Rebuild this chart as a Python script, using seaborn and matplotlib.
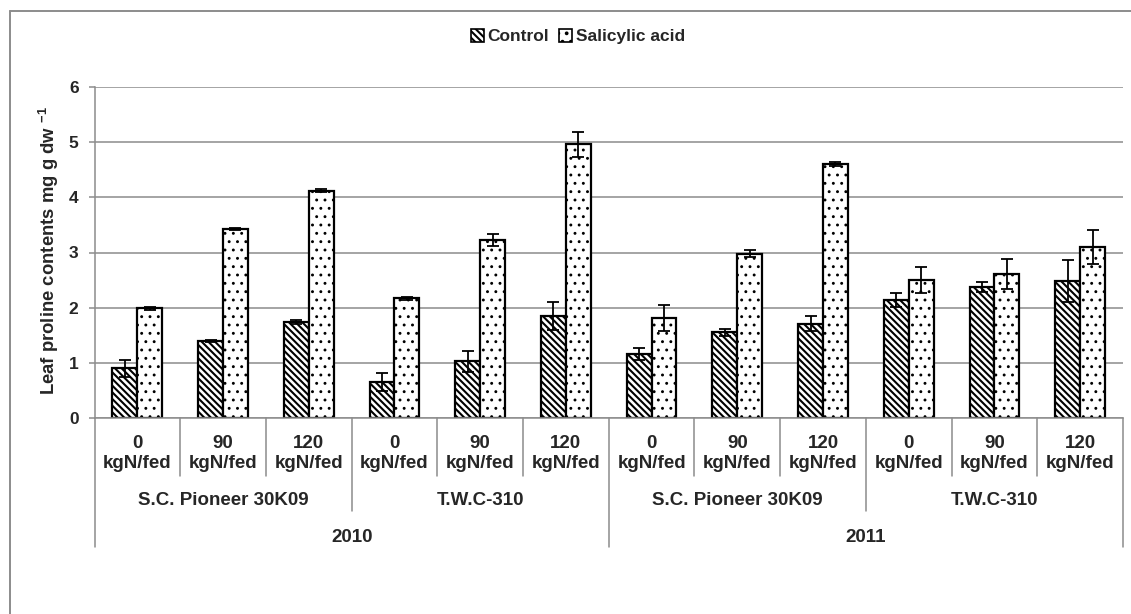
import matplotlib
matplotlib.use("Agg")
import matplotlib.pyplot as plt
from matplotlib.patches import Patch
import numpy as np
import pandas as pd
import seaborn as sns

# ---- data -------------------------------------------------------------
years = ["2010", "2011"]
hybrids = ["S.C. Pioneer 30K09", "T.W.C-310"]
nitrogen = ["0\nkgN/fed", "90\nkgN/fed", "120\nkgN/fed"]
treatments = ["Control", "Salicylic acid"]

control = [0.90, 1.39, 1.74, 0.65, 1.03, 1.85, 1.16, 1.55, 1.71, 2.14, 2.37, 2.48]
control_err = [0.16, 0.02, 0.03, 0.16, 0.19, 0.25, 0.10, 0.06, 0.13, 0.12, 0.09, 0.38]
salicylic = [1.99, 3.42, 4.12, 2.17, 3.22, 4.96, 1.81, 2.98, 4.60, 2.50, 2.61, 3.10]
salicylic_err = [0.03, 0.02, 0.03, 0.03, 0.11, 0.22, 0.24, 0.06, 0.04, 0.23, 0.27, 0.31]

yticks = [0, 1, 2, 3, 4, 5, 6]
ylabel = r"Leaf proline contents mg g dw $^{\mathbf{-1}}$"

# ---- long-form table ---------------------------------------------------
keys = [f"{y}|{h}|{n}" for y in years for h in hybrids for n in nitrogen]
rows = []
for k, (vals, errs) in zip(treatments, [(control, control_err), (salicylic, salicylic_err)]):
    for key, v, e in zip(keys, vals, errs):
        rows.append({"key": key, "treatment": k, "value": v, "err": e})
df = pd.DataFrame(rows)

# ---- style ---------------------------------------------------------------
sns.set_style("white")
plt.rcParams["font.family"] = ["Liberation Sans", "DejaVu Sans"]
plt.rcParams["font.weight"] = "bold"
plt.rcParams["mathtext.fontset"] = "custom"
plt.rcParams["mathtext.rm"] = "Liberation Sans:bold"
plt.rcParams["mathtext.bf"] = "Liberation Sans:bold"
plt.rcParams["hatch.linewidth"] = 1.5
plt.rcParams["hatch.color"] = "black"

GRAY = "#8c8c8c"
W, H = 1131, 614
fig = plt.figure(figsize=(W / 100, H / 100), dpi=100)
ax = fig.add_axes([94.5 / W, 1 - 418 / H, 1028.5 / W, 331 / H])

sns.barplot(data=df, x="key", y="value", hue="treatment", order=keys,
            hue_order=treatments, palette=["white", "white"], saturation=1,
            width=0.58, gap=0, edgecolor="black", linewidth=1.6,
            errorbar=None, legend=False, ax=ax, zorder=2)

hatches = ["\\\\\\\\\\", ".."]
hatch_lw = [1.5, 0.9]


def apply_hatch(patch, hatch, lw):
    patch.set_hatch(hatch)
    if hasattr(patch, "set_hatch_linewidth"):
        patch.set_hatch_linewidth(lw)


for cont, hatch, lw in zip(ax.containers, hatches, hatch_lw):
    for p in cont:
        apply_hatch(p, hatch, lw)

# error bars centred on each bar
for cont, t in zip(ax.containers, treatments):
    sub = df[df["treatment"] == t].set_index("key").loc[keys]
    xs = [p.get_x() + p.get_width() / 2 for p in cont]
    ax.errorbar(xs, sub["value"], yerr=sub["err"], fmt="none", ecolor="black",
                elinewidth=1.3, capsize=4, capthick=1.3, zorder=3)

ax.set_xlim(-0.5, len(keys) - 0.5)
ax.set_ylim(0, 6)
ax.set_yticks(yticks)
ax.set_yticklabels([str(t) for t in yticks], fontsize=12.5, fontweight="bold")
ax.set_axisbelow(True)
ax.yaxis.grid(True, color=GRAY, linewidth=1.1)
ax.xaxis.grid(False)
for s in ["top", "right"]:
    ax.spines[s].set_visible(False)
for s in ["left", "bottom"]:
    ax.spines[s].set_color(GRAY)
    ax.spines[s].set_linewidth(1.1)
ax.tick_params(axis="y", length=4.5, width=1.1, color=GRAY, pad=7, left=True)
ax.set_xticks(range(len(keys)))
ax.set_xticklabels(nitrogen * 4, fontsize=13.5, fontweight="bold", linespacing=1.25)
ax.tick_params(axis="x", length=0, pad=12)
ax.set_xlabel("")
ax.set_ylabel("")

# multi-level category axis
tr = ax.get_xaxis_transform()
for i in range(len(keys) + 1):
    x = i - 0.5
    if i % 6 == 0:
        yb = -0.39
    elif i % 3 == 0:
        yb = -0.281
    else:
        yb = -0.175
    ax.plot([x, x], [0, yb], color=GRAY, linewidth=1.1, transform=tr, clip_on=False)

for gi, (y, h) in enumerate([(y, h) for y in years for h in hybrids]):
    ax.text(gi * 3 + 1, -0.25, h, transform=tr, ha="center", va="center",
            fontsize=13.5, fontweight="bold")
for yi, y in enumerate(years):
    ax.text(yi * 6 + 2.5, -0.362, y, transform=tr, ha="center", va="center",
            fontsize=13.5, fontweight="bold")

fig.text(49 / W, 1 - 251 / H, ylabel, rotation=90, ha="center", va="center",
         fontsize=13.3, fontweight="bold")

handles = []
for h, lw in zip(hatches, hatch_lw):
    hp = Patch(facecolor="white", edgecolor="black", linewidth=1.2)
    apply_hatch(hp, h, lw)
    handles.append(hp)
fig.legend(handles, treatments, loc="center", bbox_to_anchor=(0.511, 1 - 36.5 / H),
           ncol=2, frameon=False, prop={"size": 12.5, "weight": "bold"},
           handlelength=0.75, handleheight=0.75, handletextpad=0.2,
           columnspacing=0.6)

# chart frame
fig.add_artist(plt.Line2D([9.5 / W, 1], [1 - 10.5 / H] * 2, color=GRAY,
                          linewidth=1.4, transform=fig.transFigure))
fig.add_artist(plt.Line2D([9.5 / W] * 2, [0, 1 - 10.5 / H], color=GRAY,
                          linewidth=1.4, transform=fig.transFigure))

fig.savefig("out.png", dpi=100)
